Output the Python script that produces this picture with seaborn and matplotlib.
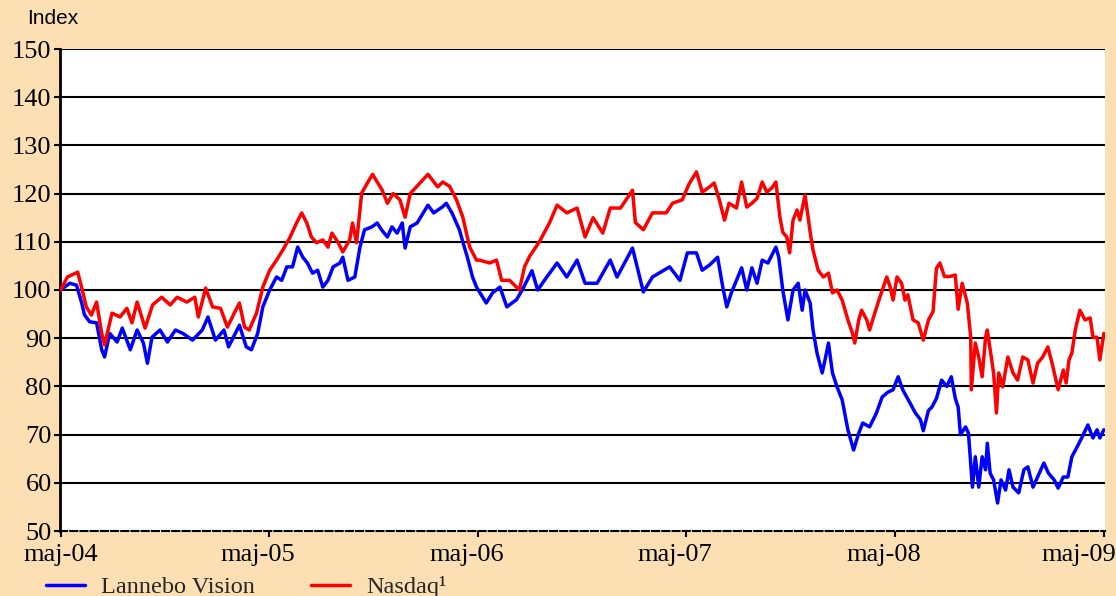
import matplotlib

matplotlib.use("Agg")
import matplotlib.pyplot as plt
import matplotlib.transforms as mtransforms
import pandas as pd
import seaborn as sns

# %% Data (index, start = 100)
vision_dates = [
    "2004-05-01", "2004-05-17", "2004-05-29", "2004-06-07", "2004-06-12", "2004-06-21",
    "2004-07-03", "2004-07-12", "2004-07-17", "2004-07-26", "2004-08-08", "2004-08-17",
    "2004-08-31", "2004-09-12", "2004-09-23", "2004-09-30", "2004-10-08", "2004-10-22",
    "2004-11-04", "2004-11-18", "2004-12-01", "2004-12-18", "2005-01-04", "2005-01-14",
    "2005-01-27", "2005-02-11", "2005-02-19", "2005-03-10", "2005-03-22", "2005-03-31",
    "2005-04-11", "2005-04-20", "2005-05-02", "2005-05-14", "2005-05-23", "2005-06-01",
    "2005-06-11", "2005-06-20", "2005-06-29", "2005-07-07", "2005-07-16", "2005-07-25",
    "2005-08-03", "2005-08-12", "2005-08-21", "2005-09-02", "2005-09-07", "2005-09-16",
    "2005-09-28", "2005-10-07", "2005-10-15", "2005-10-28", "2005-11-06", "2005-11-15",
    "2005-11-24", "2005-12-02", "2005-12-11", "2005-12-20", "2005-12-25", "2006-01-03",
    "2006-01-15", "2006-02-03", "2006-02-13", "2006-02-28", "2006-03-07", "2006-03-17",
    "2006-03-30", "2006-04-05", "2006-04-13", "2006-04-22", "2006-04-29", "2006-05-16",
    "2006-05-27", "2006-06-09", "2006-06-21", "2006-07-08", "2006-07-18", "2006-08-04",
    "2006-08-14", "2006-08-30", "2006-09-17", "2006-10-04", "2006-10-22", "2006-11-05",
    "2006-11-26", "2006-12-19", "2006-12-31", "2007-01-27", "2007-02-10", "2007-02-15",
    "2007-03-03", "2007-04-02", "2007-04-20", "2007-05-03", "2007-05-19", "2007-05-29",
    "2007-06-11", "2007-06-25", "2007-07-04", "2007-07-11", "2007-07-19", "2007-07-28",
    "2007-08-06", "2007-08-15", "2007-08-24", "2007-09-02", "2007-09-11", "2007-09-21",
    "2007-09-30", "2007-10-05", "2007-10-10", "2007-10-17", "2007-10-26", "2007-11-04",
    "2007-11-13", "2007-11-20", "2007-11-25", "2007-12-04", "2007-12-09", "2007-12-16",
    "2007-12-25", "2007-12-30", "2008-01-05", "2008-01-12", "2008-01-20", "2008-01-29",
    "2008-02-08", "2008-02-13", "2008-02-18", "2008-02-27", "2008-03-05", "2008-03-17",
    "2008-03-29", "2008-04-08", "2008-04-18", "2008-04-27", "2008-05-06", "2008-05-14",
    "2008-05-27", "2008-06-05", "2008-06-14", "2008-06-19", "2008-06-28", "2008-07-04",
    "2008-07-12", "2008-07-21", "2008-07-30", "2008-08-07", "2008-08-14", "2008-08-19",
    "2008-08-23", "2008-09-01", "2008-09-06", "2008-09-13", "2008-09-18", "2008-09-24",
    "2008-09-30", "2008-10-06", "2008-10-09", "2008-10-14", "2008-10-20", "2008-10-27",
    "2008-11-02", "2008-11-10", "2008-11-16", "2008-11-23", "2008-12-03", "2008-12-12",
    "2008-12-19", "2008-12-28", "2009-01-05", "2009-01-16", "2009-01-24", "2009-02-03",
    "2009-02-10", "2009-02-19", "2009-02-27", "2009-03-06", "2009-03-15", "2009-03-24",
    "2009-04-03", "2009-04-12", "2009-04-19", "2009-04-24", "2009-05-01",
]
vision_values = [
    100.0, 101.4, 101.0, 97.3, 94.8, 93.4,
    93.2, 87.6, 86.1, 91.0, 89.2, 92.1,
    87.6, 91.7, 89.0, 84.8, 90.2, 91.7,
    89.2, 91.7, 91.0, 89.6, 91.7, 94.4,
    89.6, 91.7, 88.2, 92.7, 88.2, 87.6,
    91.0, 96.5, 100.0, 102.7, 102.0, 104.8,
    104.8, 108.9, 106.8, 105.6, 103.5, 104.1,
    100.6, 102.0, 104.8, 105.6, 106.8, 102.0,
    102.7, 108.9, 112.5, 113.1, 113.9, 112.3,
    111.0, 113.1, 111.8, 113.9, 108.7, 113.1,
    113.9, 117.6, 116.0, 117.2, 118.0, 116.0,
    112.5, 110.0, 106.8, 102.7, 100.6, 97.3,
    99.4, 100.6, 96.5, 98.0, 100.0, 104.0,
    100.0, 102.7, 105.6, 102.7, 106.2, 101.4,
    101.4, 106.2, 102.7, 108.7, 102.0, 99.6,
    102.7, 104.8, 102.0, 107.7, 107.7, 104.1,
    105.2, 106.8, 100.6, 96.5, 99.4, 102.0,
    104.6, 100.0, 104.6, 101.4, 106.2, 105.6,
    107.7, 108.9, 106.8, 100.0, 93.8, 100.0,
    101.4, 95.8, 100.0, 97.3, 91.7, 86.9,
    82.8, 85.5, 89.0, 82.8, 79.9, 77.2,
    71.0, 68.9, 66.8, 70.3, 72.4, 71.6,
    74.5, 77.8, 78.8, 79.3, 82.0, 79.3,
    76.5, 74.5, 73.1, 70.8, 75.0, 75.7,
    77.5, 81.3, 80.0, 82.0, 77.5, 75.7,
    70.0, 71.6, 70.3, 59.1, 65.4, 59.1,
    65.4, 62.7, 68.2, 62.0, 60.6, 55.8,
    60.6, 58.5, 62.7, 59.1, 57.9, 62.7,
    63.3, 59.1, 61.2, 64.1, 62.0, 60.6,
    58.9, 61.2, 61.2, 65.4, 67.4, 69.5,
    72.0, 69.3, 71.0, 69.3, 71.0,
]

nasdaq_dates = [
    "2004-05-01", "2004-05-13", "2004-05-31", "2004-06-08", "2004-06-15", "2004-06-24",
    "2004-07-03", "2004-07-12", "2004-07-17", "2004-07-30", "2004-08-13", "2004-08-25",
    "2004-09-03", "2004-09-12", "2004-09-26", "2004-10-09", "2004-10-25", "2004-11-09",
    "2004-11-21", "2004-12-08", "2004-12-22", "2004-12-28", "2005-01-10", "2005-01-22",
    "2005-02-05", "2005-02-17", "2005-03-01", "2005-03-10", "2005-03-19", "2005-03-27",
    "2005-04-09", "2005-04-20", "2005-05-02", "2005-05-14", "2005-05-25", "2005-06-06",
    "2005-06-18", "2005-06-27", "2005-07-06", "2005-07-14", "2005-07-23", "2005-08-03",
    "2005-08-12", "2005-08-19", "2005-08-29", "2005-09-07", "2005-09-19", "2005-09-24",
    "2005-10-01", "2005-10-10", "2005-10-20", "2005-10-29", "2005-11-15", "2005-11-24",
    "2005-12-04", "2005-12-16", "2005-12-25", "2006-01-03", "2006-01-20", "2006-02-03",
    "2006-02-20", "2006-03-01", "2006-03-13", "2006-03-25", "2006-04-05", "2006-04-17",
    "2006-04-29", "2006-05-04", "2006-05-22", "2006-06-03", "2006-06-12", "2006-06-26",
    "2006-07-13", "2006-07-22", "2006-07-31", "2006-08-17", "2006-09-04", "2006-09-17",
    "2006-10-04", "2006-10-22", "2006-11-05", "2006-11-19", "2006-12-06", "2006-12-19",
    "2007-01-06", "2007-01-27", "2007-02-01", "2007-02-15", "2007-03-03", "2007-03-27",
    "2007-04-07", "2007-04-24", "2007-05-06", "2007-05-19", "2007-05-29", "2007-06-11",
    "2007-06-19", "2007-06-28", "2007-07-07", "2007-07-15", "2007-07-28", "2007-08-06",
    "2007-08-15", "2007-08-24", "2007-09-02", "2007-09-11", "2007-09-19", "2007-09-28",
    "2007-10-05", "2007-10-12", "2007-10-17", "2007-10-24", "2007-10-29", "2007-11-04",
    "2007-11-11", "2007-11-16", "2007-11-25", "2007-12-04", "2007-12-09", "2007-12-18",
    "2007-12-27", "2008-01-05", "2008-01-12", "2008-01-20", "2008-01-29", "2008-02-08",
    "2008-02-16", "2008-02-20", "2008-02-27", "2008-03-03", "2008-03-12", "2008-03-17",
    "2008-03-26", "2008-04-04", "2008-04-16", "2008-04-22", "2008-04-27", "2008-05-04",
    "2008-05-12", "2008-05-18", "2008-05-23", "2008-06-01", "2008-06-10", "2008-06-19",
    "2008-06-28", "2008-07-06", "2008-07-12", "2008-07-18", "2008-07-26", "2008-08-04",
    "2008-08-14", "2008-08-19", "2008-08-26", "2008-09-04", "2008-09-10", "2008-09-11",
    "2008-09-18", "2008-09-24", "2008-09-30", "2008-10-06", "2008-10-09", "2008-10-14",
    "2008-10-20", "2008-10-25", "2008-10-29", "2008-11-05", "2008-11-14", "2008-11-23",
    "2008-12-01", "2008-12-10", "2008-12-19", "2008-12-28", "2009-01-05", "2009-01-14",
    "2009-01-23", "2009-02-01", "2009-02-10", "2009-02-19", "2009-02-24", "2009-03-01",
    "2009-03-06", "2009-03-12", "2009-03-20", "2009-03-29", "2009-04-07", "2009-04-12",
    "2009-04-19", "2009-04-24", "2009-05-01",
]
nasdaq_values = [
    100.0, 102.7, 103.7, 100.0, 96.5, 94.8,
    97.5, 91.0, 88.6, 95.2, 94.4, 96.2,
    93.2, 97.5, 92.1, 96.9, 98.5, 96.9,
    98.5, 97.5, 98.5, 94.4, 100.4, 96.5,
    96.2, 92.3, 95.2, 97.3, 92.3, 91.7,
    95.2, 100.6, 104.1, 106.2, 108.3, 110.8,
    113.9, 116.0, 113.9, 111.0, 109.8, 110.4,
    108.9, 111.8, 110.0, 107.9, 110.4, 113.9,
    109.8, 120.1, 122.2, 124.0, 120.7, 118.0,
    120.0, 118.7, 115.1, 120.0, 122.2, 124.0,
    121.4, 122.4, 121.5, 118.7, 115.1, 108.9,
    106.2, 106.2, 105.6, 106.2, 102.0, 102.0,
    100.0, 104.8, 107.0, 110.0, 114.0, 117.6,
    116.0, 117.0, 111.0, 115.0, 111.8, 117.0,
    117.0, 120.7, 114.0, 112.5, 116.0, 116.0,
    118.0, 118.7, 122.0, 124.5, 120.3, 121.4,
    122.2, 118.7, 114.5, 118.0, 117.0, 122.4,
    117.2, 118.0, 119.0, 122.4, 120.3, 121.2,
    122.4, 115.1, 112.0, 111.0, 107.7, 114.5,
    116.6, 114.5, 119.7, 112.0, 108.3, 104.1,
    102.7, 103.5, 99.4, 100.0, 97.9, 93.8,
    91.0, 89.0, 93.8, 95.8, 93.8, 91.7,
    95.2, 98.5, 102.7, 100.6, 97.9, 102.7,
    101.4, 97.9, 99.0, 93.8, 93.2, 89.6,
    93.8, 95.5, 104.5, 105.6, 102.8, 102.8,
    103.1, 96.0, 101.4, 97.3, 90.2, 79.3,
    89.0, 86.1, 82.0, 90.2, 91.7, 87.6,
    82.8, 74.5, 82.8, 79.9, 86.1, 82.8,
    81.3, 86.1, 85.5, 80.7, 84.8, 86.1,
    88.2, 84.0, 79.3, 83.4, 80.7, 85.5,
    86.9, 91.7, 95.8, 93.8, 94.2, 90.2,
    90.2, 85.5, 91.0,
]

tick_dates = ["2004-05-01", "2005-05-01", "2006-05-01", "2007-05-01", "2008-05-01", "2009-05-01"]
tick_labels = ["maj-04", "maj-05", "maj-06", "maj-07", "maj-08", "maj-09"]
y_ticks = [50, 60, 70, 80, 90, 100, 110, 120, 130, 140, 150]

vision = pd.DataFrame({"date": pd.to_datetime(vision_dates), "value": vision_values})
nasdaq = pd.DataFrame({"date": pd.to_datetime(nasdaq_dates), "value": nasdaq_values})

# %% Plot
sns.set_theme(style="white")
plt.rcParams["font.family"] = ["Liberation Serif", "DejaVu Serif"]

bg = "#FCE0B4"
fig = plt.figure(figsize=(11.16, 5.96), dpi=100, facecolor=bg)
ax = fig.add_axes([60 / 1116, 65 / 596, 1045 / 1116, 482 / 596])
ax.set_facecolor("white")

sns.lineplot(data=vision, x="date", y="value", color="#0000FF", linewidth=3.4,
             label="Lannebo Vision", ax=ax, zorder=3)
sns.lineplot(data=nasdaq, x="date", y="value", color="#FF0000", linewidth=3.4,
             label="Nasdaq\u00b9", ax=ax, zorder=4)

ax.set_ylim(50, 150)
ax.set_xlim(pd.Timestamp("2004-04-30"), pd.Timestamp("2009-05-03"))
ax.set_yticks(y_ticks)
ax.set_yticklabels([str(v) for v in y_ticks], fontsize=19)
ax.set_xticks(pd.to_datetime(tick_dates))
ax.set_xticklabels(tick_labels, fontsize=19)
ax.set_xlabel("")
ax.set_ylabel("")

# horizontal grid, solid black; bottom line at 50 drawn as dashed spine
ax.yaxis.grid(True, color="black", linewidth=1.5, zorder=1)
ax.xaxis.grid(False)
ax.set_axisbelow(True)
ax.get_ygridlines()[0].set_visible(False)

for side in ["top", "right"]:
    ax.spines[side].set_visible(False)
ax.spines["left"].set_color("black")
ax.spines["left"].set_linewidth(2)
ax.spines["bottom"].set_color("black")
ax.spines["bottom"].set_linewidth(1.5)
ax.spines["bottom"].set_linestyle((0, (3.4, 1.5)))

ax.tick_params(axis="y", left=True, length=4, width=1.5, color="black", pad=2, labelcolor="black")
ax.tick_params(axis="x", bottom=True, length=4, width=1.5, color="black", pad=5, labelcolor="black")

# labels sit a little left of their ticks; last one pulled inside the figure
labels = ax.get_xticklabels()
for i, lab in enumerate(labels):
    if i == 0:
        continue
    if i == len(labels) - 1:
        lab.set_horizontalalignment("right")
        dx = 9 / 72
    else:
        dx = -8 / 72
    lab.set_transform(lab.get_transform() + mtransforms.ScaledTranslation(dx, 0, fig.dpi_scale_trans))

ax.legend_.remove()
handles, leg_labels = ax.get_legend_handles_labels()
for h in handles:
    h.set_linewidth(2.5)
fig.legend(handles, leg_labels, loc="center left", bbox_to_anchor=(46 / 1116, 1 - 587 / 596),
           ncol=2, frameon=False, fontsize=17.5, handlelength=1.6, handletextpad=0.68,
           columnspacing=2.3, borderpad=0, borderaxespad=0)

fig.text(27 / 1116, 1 - 18 / 596, "Index", fontsize=15, family=["Liberation Sans", "DejaVu Sans"],
         ha="left", va="center", color="black")

fig.savefig("out.png", dpi=100, facecolor=bg)
